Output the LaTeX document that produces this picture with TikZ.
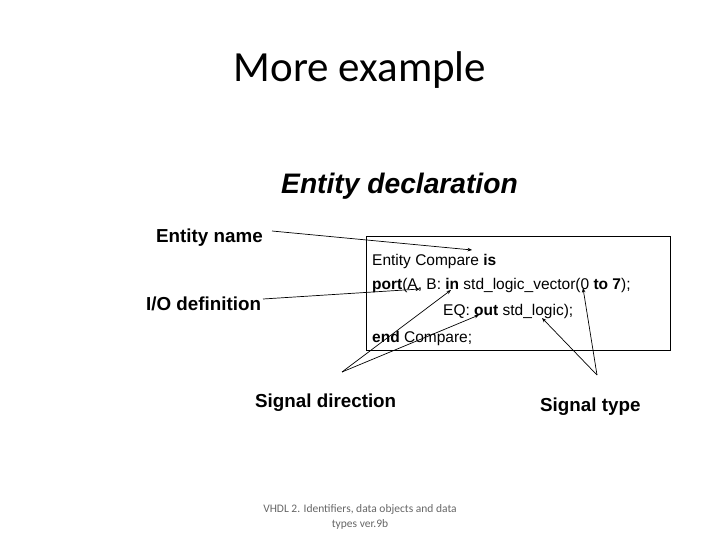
\documentclass[tikz,border=0pt]{standalone}
\usepackage{fontspec}
\setmainfont{Liberation Sans}
\newfontfamily\calibrifont{Carlito}
\usetikzlibrary{arrows.meta}
\begin{document}
\begin{tikzpicture}[x=1pt,y=-1pt,
  lbl/.style={font=\fontsize{18.8}{20}\selectfont\bfseries, inner sep=0pt, anchor=base west},
  codeline/.style={font=\fontsize{15.5}{17}\selectfont, inner sep=0pt, anchor=base west},
  ptr/.style={draw, line width=0.7pt, -{Stealth[length=4.5pt,width=3.5pt]}},
  frame/.style={draw, line width=1pt}]
\useasboundingbox (0,0) rectangle (720,540);
\node[font=\calibrifont\fontsize{43}{50}\selectfont, inner sep=0pt, anchor=base] (title) at (360,82) {More example};
\node[font=\fontsize{28.2}{30}\selectfont\bfseries\itshape, inner sep=0pt, anchor=base] (decl) at (399.5,194) {Entity declaration};
\draw[frame] (366,236) rectangle (670,350);
\node[codeline] (l1) at (372,265) {Entity Compare \textbf{is}};
\node[codeline] (l2) at (372,289) {\textbf{port}(A, B: \textbf{in} std\_logic\_vector(0 \textbf{to 7});};
\node[codeline] (l3) at (443,315) {EQ: \textbf{out} std\_logic);};
\node[codeline] (l4) at (372,342) {\textbf{end} Compare;};
\node[lbl] (ename) at (156,242) {Entity name};
\node[lbl] (iodef) at (146,310) {I/O definition};
\node[lbl] (sdir) at (255,407) {Signal direction};
\node[lbl] (stype) at (540,411) {Signal type};
\node[font=\calibrifont\fontsize{11.5}{15}\selectfont, text=black!60, align=center, inner sep=0pt, anchor=base] (foot) at (360,527) {VHDL 2. Identifiers, data objects and data\\types ver.9b};
\coordinate (enS) at (272,231);
\coordinate (enE) at (472,250);
\coordinate (ioS) at (263,299);
\coordinate (ioE) at (420,289);
\coordinate (sdA) at (342,372);
\coordinate (sdIn) at (451,290);
\coordinate (sdOut) at (479,315);
\coordinate (stA) at (597,375);
\coordinate (stLog) at (542,318);
\coordinate (stPar) at (583,288);
\draw[ptr] (enS) -- (enE);
\draw[ptr] (ioS) -- (ioE);
\draw[ptr] (sdA) -- (sdIn);
\draw[ptr] (sdA) -- (sdOut);
\draw[ptr] (stA) -- (stLog);
\draw[ptr] (stA) -- (stPar);
\end{tikzpicture}
\end{document}
